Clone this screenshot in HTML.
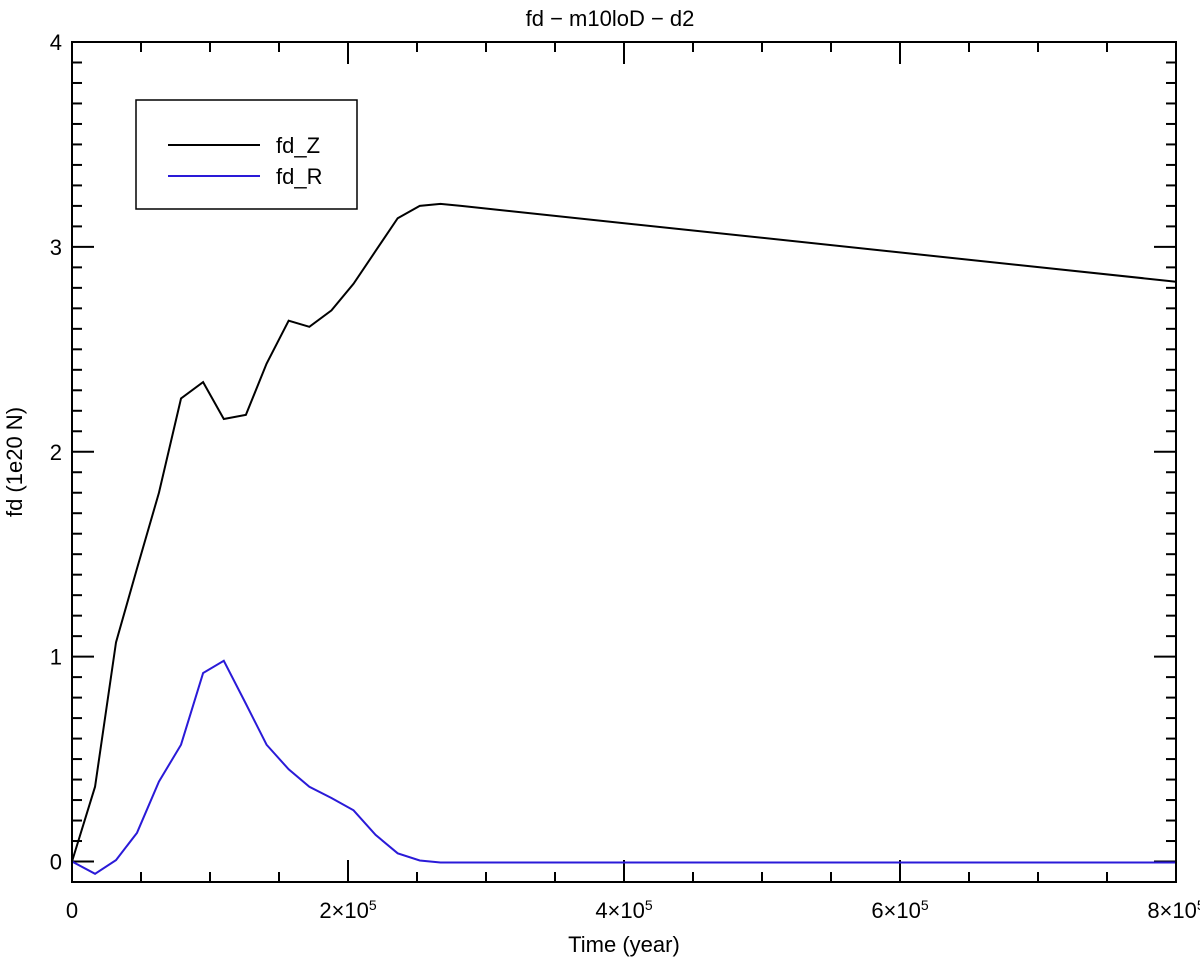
<!DOCTYPE html>
<html><head><meta charset="utf-8"><style>
html,body{margin:0;padding:0;background:#fff}
svg text{font-family:"Liberation Sans",Arial,sans-serif;fill:#000}
</style></head><body>
<svg id="chart" width="1200" height="960" viewBox="0 0 1200 960" xmlns="http://www.w3.org/2000/svg">
<text x="610" y="26" font-size="22" text-anchor="middle">fd − m10loD − d2</text>
<text x="624" y="952" font-size="22" text-anchor="middle">Time (year)</text>
<text x="22" y="462" font-size="22" text-anchor="middle" transform="rotate(-90 22 462)">fd (1e20 N)</text>
<g id="ticks"></g>
<g id="series"></g>
<rect x="72" y="42" width="1104" height="840" fill="none" stroke="#000" stroke-width="2"/>
<g>
<rect x="136" y="100" width="221" height="109" fill="#fff" stroke="#000" stroke-width="1.5"/>
<line x1="168" y1="145" x2="260" y2="145" stroke="#000" stroke-width="2"/>
<text x="276" y="153" font-size="22">fd_Z</text>
<line x1="168" y1="176" x2="260" y2="176" stroke="#2a1ad8" stroke-width="2"/>
<text x="276" y="184" font-size="22">fd_R</text>
</g>
</svg>
<script>
const times = [0,16700,31900,47100,63000,79000,95000,110000,126000,141000,157000,172000,188000,204000,220000,236000,252000,267000,282000,800000];
const fdZ = [0,0.365,1.07,1.43,1.80,2.26,2.34,2.16,2.18,2.43,2.64,2.61,2.69,2.82,2.98,3.14,3.20,3.21,3.20,2.83];
const fdR = [0,-0.06,0.007,0.14,0.39,0.57,0.92,0.98,0.77,0.57,0.45,0.365,0.31,0.25,0.13,0.04,0.005,-0.005,-0.005,-0.005];
const yTicks = [0,1,2,3,4];
const xTicks = [0,200000,400000,600000,800000];
const xTickLabels = ["0","2×10<tspan baseline-shift='super' font-size='14'>5</tspan>","4×10<tspan baseline-shift='super' font-size='14'>5</tspan>","6×10<tspan baseline-shift='super' font-size='14'>5</tspan>","8×10<tspan baseline-shift='super' font-size='14'>5</tspan>"];
const X0=72,X1=1176,Y0=882,Y1=42,XMIN=0,XMAX=800000,YMIN=-0.1,YMAX=4;
function sx(v){return X0+(v-XMIN)/(XMAX-XMIN)*(X1-X0);}
function sy(v){return Y0-(v-YMIN)/(YMAX-YMIN)*(Y0-Y1);}
const NS="http://www.w3.org/2000/svg";
const tg=document.getElementById('ticks'), sg=document.getElementById('series');
function ln(x1,y1,x2,y2,name){const l=document.createElementNS(NS,'line');
l.setAttribute('x1',x1);l.setAttribute('y1',y1);l.setAttribute('x2',x2);l.setAttribute('y2',y2);
l.setAttribute('stroke','#000');l.setAttribute('stroke-width','2');


tg.appendChild(l);}
for(let v=0;v<=4.0001;v+=0.1){const y=sy(v);const major=Math.abs(v-Math.round(v))<1e-6;const L=major?22:10;
ln(X0,y,X0+L,y,'y-tick');ln(X1,y,X1-L,y,'y-tick-right');}
for(let v=0;v<=800000;v+=50000){const x=sx(v);const major=v%200000===0;const L=major?22:10;
ln(x,Y0,x,Y0-L,'x-tick');ln(x,Y1,x,Y1+L,'x-tick-top');}
yTicks.forEach(v=>{const t=document.createElementNS(NS,'text');t.setAttribute('x',X0-10);t.setAttribute('y',sy(v)+8);
t.setAttribute('font-size','22');t.setAttribute('text-anchor','end');t.textContent=v;


tg.appendChild(t);});
xTicks.forEach((v,i)=>{const t=document.createElementNS(NS,'text');t.setAttribute('x',sx(v));t.setAttribute('y',918);
t.setAttribute('font-size','22');t.setAttribute('text-anchor','middle');t.innerHTML=xTickLabels[i];


tg.appendChild(t);});
function series(vals,color,name){const p=document.createElementNS(NS,'polyline');
p.setAttribute('points',vals.map((v,i)=>sx(times[i])+','+sy(v)).join(' '));
p.setAttribute('fill','none');p.setAttribute('stroke',color);p.setAttribute('stroke-width','2');


sg.appendChild(p);}
series(fdZ,'#000','line-fd-z');
series(fdR,'#2a1ad8','line-fd-r');
</script>
</body></html>
